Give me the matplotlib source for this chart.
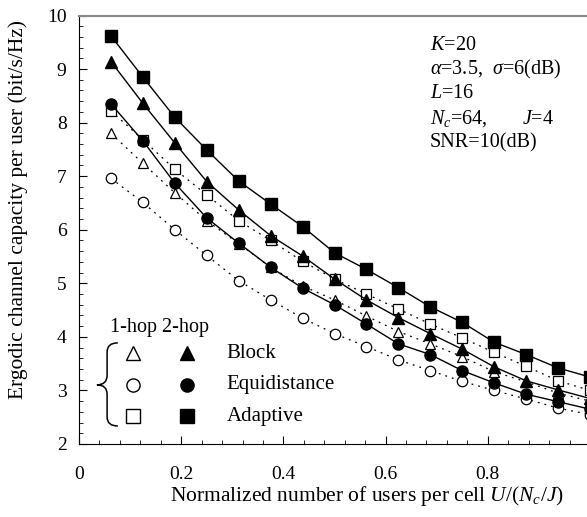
import numpy as np
import matplotlib.pyplot as plt
from matplotlib.ticker import MultipleLocator
from matplotlib.path import Path
from matplotlib.patches import PathPatch

plt.rcParams['font.family'] = ['Liberation Serif', 'DejaVu Serif']
plt.rcParams['mathtext.fontset'] = 'custom'
plt.rcParams['mathtext.rm'] = 'Liberation Serif'
plt.rcParams['mathtext.it'] = 'Liberation Serif:italic'

# normalized users per cell U/(Nc/J), U = 1..16
x = np.arange(1, 17) / 16

block_1hop = [7.80, 7.24, 6.69, 6.17, 5.74, 5.30, 4.95, 4.69, 4.39, 4.10, 3.87, 3.63, 3.35, 3.16, 2.95, 2.80]
equi_1hop = [6.96, 6.51, 6.00, 5.52, 5.05, 4.69, 4.35, 4.06, 3.82, 3.57, 3.37, 3.17, 3.00, 2.84, 2.67, 2.55]
adapt_1hop = [8.22, 7.68, 7.13, 6.65, 6.17, 5.80, 5.41, 5.08, 4.80, 4.52, 4.24, 3.98, 3.71, 3.45, 3.18, 3.00]
block_2hop = [9.14, 8.36, 7.62, 6.90, 6.37, 5.89, 5.51, 5.08, 4.69, 4.36, 4.06, 3.77, 3.44, 3.18, 3.01, 2.85]
equi_2hop = [8.35, 7.66, 6.87, 6.22, 5.75, 5.30, 4.91, 4.60, 4.24, 3.87, 3.67, 3.37, 3.14, 2.93, 2.79, 2.65]
adapt_2hop = [9.62, 8.85, 8.10, 7.49, 6.91, 6.48, 6.06, 5.57, 5.26, 4.92, 4.56, 4.27, 3.90, 3.67, 3.42, 3.25]

labels = ['Block', 'Equidistance', 'Adaptive']
markers = ['^', 'o', 's']

fig = plt.figure(figsize=(5.87, 5.17), dpi=100)
ax = fig.add_axes([79 / 587, 73 / 517, 511 / 587, 428.5 / 517])

dotted = (0, (1.5, 4))
for ys, m in zip([block_1hop, equi_1hop, adapt_1hop], markers):
    ax.plot(x, ys, color='black', lw=0.9, ls=dotted, marker=m, ms=7.5,
            mfc='white', mec='black', mew=0.9)
for ys, m in zip([block_2hop, equi_2hop, adapt_2hop], markers):
    ax.plot(x, ys, color='black', lw=1.0, ls='-', marker=m, ms=8,
            mfc='black', mec='black')

ax.set_xlim(0, 1)
ax.set_ylim(2, 10)
ax.xaxis.set_minor_locator(MultipleLocator(0.04))
ax.yaxis.set_major_locator(MultipleLocator(1))
ax.yaxis.set_minor_locator(MultipleLocator(0.2))
ax.set_xticks([0, 0.2, 0.4, 0.6, 0.8])
ax.set_xticklabels(['0', '0.2', '0.4', '0.6', '0.8'])
ax.tick_params(which='both', direction='in', labelsize=14)
ax.tick_params(which='major', length=6)
ax.tick_params(which='minor', length=3)
ax.tick_params(axis='x', pad=16)
ax.tick_params(axis='y', pad=9)
ax.spines['right'].set_visible(False)
ax.spines['top'].set_color('#888888')
ax.spines['top'].set_linewidth(1.5)

ax.set_xlabel('Normalized number of users per cell $U$/($N_c$/$J$)', fontsize=15.5)
ax.set_ylabel('Ergodic channel capacity per user (bit/s/Hz)', fontsize=15.5)
ax.xaxis.set_label_coords(0.564, -0.093)
ax.yaxis.set_label_coords(-0.1, 0.548)

# parameter box
params = ['$K$=20', r'$\alpha$=3.5,  $\sigma$=6(dB)', '$L$=16',
          '$N_c$=64,       $J$=4', 'SNR=10(dB)']
for i, t in enumerate(params):
    ax.text(0.687, 0.931 - i * 0.057, t, transform=ax.transAxes, fontsize=14.5,
            va='center', ha='left')

# custom legend
ax.text(0.060, 0.272, '1-hop 2-hop', transform=ax.transAxes, fontsize=14.5, va='center')
brace = Path([(0.076, 0.236), (0.055, 0.236), (0.055, 0.215),
              (0.055, 0.160),
              (0.055, 0.138), (0.035, 0.138),
              (0.055, 0.138), (0.055, 0.116),
              (0.055, 0.063),
              (0.055, 0.042), (0.076, 0.042)],
             [Path.MOVETO, Path.CURVE3, Path.CURVE3, Path.LINETO,
              Path.CURVE3, Path.CURVE3, Path.CURVE3, Path.CURVE3,
              Path.LINETO, Path.CURVE3, Path.CURVE3])
ax.add_patch(PathPatch(brace, transform=ax.transAxes, fc='none', ec='black', lw=1.1))
rows = [0.212, 0.138, 0.065]
for r, m, lab in zip(rows, markers, labels):
    ax.plot([0.106], [r], transform=ax.transAxes, marker=m, ms=9.5, mfc='white',
            mec='black', mew=1, ls='none')
    ax.plot([0.212], [r], transform=ax.transAxes, marker=m, ms=9.5, mfc='black',
            mec='black', ls='none')
    ax.text(0.289, r, lab, transform=ax.transAxes, fontsize=15, va='center')

fig.savefig('out.png', dpi=100)
